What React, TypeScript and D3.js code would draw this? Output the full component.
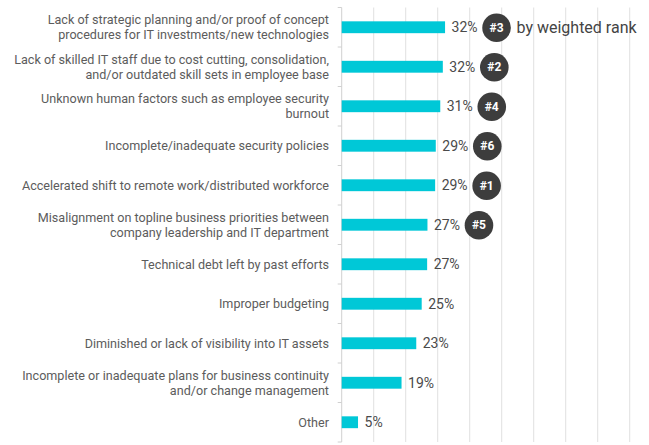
import React, { useEffect, useRef } from "react";
import * as d3 from "d3";

// categories (line breaks as in the original chart)
const categories = [
    "Lack of strategic planning and/or proof of concept\nprocedures for IT investments/new technologies",
    "Lack of skilled IT staff due to cost cutting, consolidation,\nand/or outdated skill sets in employee base",
    "Unknown human factors such as employee security\nburnout",
    "Incomplete/inadequate security policies",
    "Accelerated shift to remote work/distributed workforce",
    "Misalignment on topline business priorities between\ncompany leadership and IT department",
    "Technical debt left by past efforts",
    "Improper budgeting",
    "Diminished or lack of visibility into IT assets",
    "Incomplete or inadequate plans for business continuity\nand/or change management",
    "Other",
];

// share of respondents (%)
const values = [32.3, 31.6, 30.8, 29.4, 29.2, 26.8, 26.7, 25.0, 23.3, 18.7, 5.1];

// weighted rank badges (null = no badge)
const ranks: (number | null)[] = [3, 2, 4, 6, 1, 5, null, null, null, null, null];

const xTicks = [0, 10, 20, 30, 40, 50, 60, 70, 80, 90];

const App: React.FC = () => {
    const svgRef = useRef<SVGSVGElement | null>(null);

    useEffect(() => {
        document.body.style.margin = "0";
        if (!svgRef.current) return;

        const width = 649;
        const height = 445;
        const left = 341.7;
        const top = 7.5;
        const bottom = 442;

        const svg = d3.select(svgRef.current);
        svg.selectAll("*").remove();
        svg.attr("width", width).attr("height", height);

        const x = d3.scaleLinear().domain([0, 90]).range([left, left + 288]);
        const y = d3
            .scaleBand<number>()
            .domain(d3.range(categories.length))
            .range([top, bottom])
            .paddingInner(0.7)
            .paddingOuter(0.35);

        // gridlines
        svg.append("g")
            .selectAll("line")
            .data(xTicks)
            .join("line")
            .attr("x1", (d) => x(d))
            .attr("x2", (d) => x(d))
            .attr("y1", top)
            .attr("y2", bottom)
            .attr("stroke", (d) => (d === 0 ? "#d0d0d0" : "#e0e0e0"))
            .attr("stroke-width", 1);

        // category boundary ticks on the axis
        const step = y.step();
        svg.append("g")
            .selectAll("line")
            .data(d3.range(categories.length + 1))
            .join("line")
            .attr("x1", left - 4)
            .attr("x2", left)
            .attr("y1", (i) => top + i * step)
            .attr("y2", (i) => top + i * step)
            .attr("stroke", "#d0d0d0");

        // bars
        svg.append("g")
            .selectAll("rect")
            .data(values)
            .join("rect")
            .attr("x", x(0))
            .attr("y", (_d, i) => y(i)!)
            .attr("width", (d) => x(d) - x(0))
            .attr("height", y.bandwidth())
            .attr("fill", "#00c8d7");

        // value labels
        svg.append("g")
            .selectAll("text")
            .data(values)
            .join("text")
            .attr("x", (d) => x(d) + 6.5)
            .attr("y", (_d, i) => y(i)! + y.bandwidth() / 2)
            .attr("dy", "0.35em")
            .attr("font-family", "Roboto, sans-serif")
            .attr("font-size", 14)
            .attr("fill", "#4a4a4a")
            .text((d) => `${Math.round(d)}%`);

        // category labels
        const labels = svg.append("g")
            .selectAll("text")
            .data(categories)
            .join("text")
            .attr("text-anchor", "end")
            .attr("font-family", "Roboto, sans-serif")
            .attr("font-size", 12.6)
            .attr("fill", "#5c5c5c");

        labels.each(function (d, i) {
            const lines = d.split("\n");
            const cy = y(i)! + y.bandwidth() / 2;
            const lh = 15;
            d3.select(this)
                .selectAll("tspan")
                .data(lines)
                .join("tspan")
                .attr("x", 329)
                .attr("y", (_l, j) => cy + (j - (lines.length - 1) / 2) * lh)
                .attr("dy", "0.35em")
                .text((l) => l);
        });

        // rank badges
        const badges = svg.append("g")
            .selectAll("g")
            .data(values.map((v, i) => ({ v, i, r: ranks[i] })).filter((d) => d.r !== null))
            .join("g")
            .attr("transform", (d) => `translate(${x(d.v) + 51.5},${y(d.i)! + y.bandwidth() / 2 + 0.5})`);

        badges.append("circle").attr("r", 14.3).attr("fill", "#3d3d3d");
        badges.append("text")
            .attr("text-anchor", "middle")
            .attr("dy", "0.35em")
            .attr("font-family", "Roboto, sans-serif")
            .attr("font-weight", "bold")
            .attr("font-size", 12)
            .attr("fill", "#fff")
            .text((d) => `#${d.r}`);

        // legend-ish note
        svg.append("text")
            .attr("x", 516.5)
            .attr("y", y(0)! + y.bandwidth() / 2)
            .attr("dy", "0.35em")
            .attr("font-family", "Roboto, sans-serif")
            .attr("font-size", 16)
            .attr("fill", "#444")
            .text("by weighted rank");
    }, []);

    return <svg ref={svgRef}></svg>;
};

export default App;
